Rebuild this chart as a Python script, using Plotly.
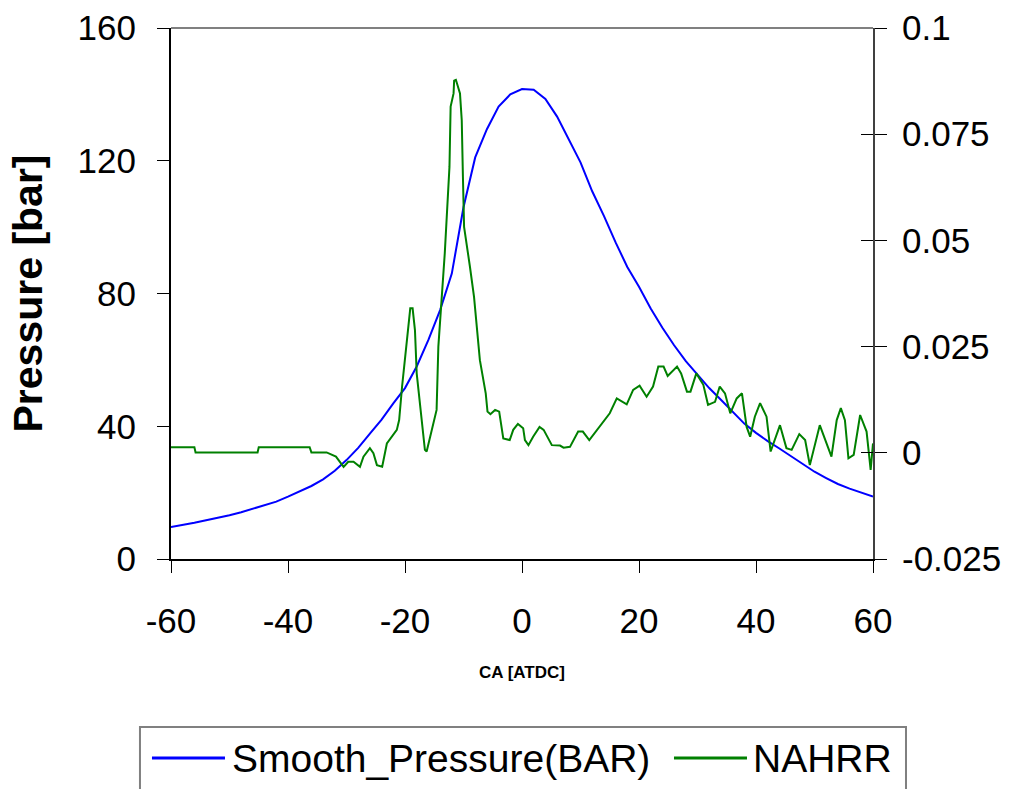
import plotly.graph_objects as go

# ---- data ----
ca_pressure = [-60, -58, -56, -54, -52, -50, -48, -46, -44, -42, -40, -38, -36, -34, -32, -30,
               -28, -26, -24, -22, -20, -18, -16, -14, -12, -10, -8, -6, -4, -2, 0, 2, 4, 6, 8,
               10, 12, 14, 16, 18, 20, 22, 24, 26, 28, 30, 32, 34, 36, 38, 40, 42, 44, 46, 48,
               50, 52, 54, 56, 58, 60]
smooth_pressure = [9.6, 10.2, 10.9, 11.7, 12.4, 13.2, 14.1, 15.1, 16.1, 17.3, 18.8, 20.3, 22.0, 24.0,
                   26.6, 29.8, 33.5, 37.8, 42.0, 46.9, 51.5, 58.0, 66.0, 75.0, 86.0, 106.0, 121.0,
                   129.5, 136.3, 140.0, 141.6, 141.4, 138.6, 133.3, 126.4, 119.5, 110.8, 103.4,
                   95.4, 88.0, 82.0, 75.5, 69.7, 64.4, 59.6, 55.5, 51.5, 48.0, 44.3, 40.8, 38.0,
                   35.5, 33.3, 31.0, 28.7, 26.3, 24.4, 22.6, 21.2, 20.0, 18.8]

ca_nahrr = [-60, -56.0, -55.8, -45.2, -45.0, -36.3, -36.0, -33.4, -31.8, -30.5, -29.7, -28.8,
            -27.7, -27.1, -26.0, -25.4, -24.8, -23.9, -23.1, -21.4, -21.0, -20.5, -19.1, -18.7,
            -18.3, -18.0, -16.6, -16.3, -14.6, -14.3, -13.2, -12.4, -12.2, -11.7, -11.6, -11.3,
            -10.6, -10.3, -10.1, -9.9, -8.9, -8.2, -7.2, -6.2, -5.9, -5.4, -4.6, -3.9, -3.2,
            -2.1, -1.5, -0.7, 0.2, 0.5, 1.1, 1.9, 3.0, 3.7, 5.1, 6.5, 7.1, 8.2, 9.6, 10.4, 11.5,
            13.3, 15.0, 16.2, 17.9, 19.0, 20.1, 21.3, 22.4, 23.3, 24.2, 24.9, 26.5, 27.2, 28.2,
            28.8, 29.8, 31.0, 31.8, 33.0, 33.8, 34.7, 35.6, 36.7, 37.6, 38.4, 39.0, 39.8, 40.7,
            41.8, 42.5, 44.1, 45.2, 46.1, 47.4, 48.4, 49.2, 50.9, 51.8, 52.9, 53.8, 54.5, 55.2,
            55.8, 56.7, 57.8, 58.9, 59.6, 60.0]
nahrr = [0.0013, 0.0013, 0.0001, 0.0001, 0.0013, 0.0013, 0.0001, 0.0001, -0.0009, -0.0033,
         -0.0021, -0.0021, -0.0033, -0.0009, 0.0011, -0.0001, -0.0029, -0.0033, 0.0022, 0.0054,
         0.0077, 0.0156, 0.034, 0.034, 0.0289, 0.0187, 0.0007, 0.0003, 0.0101, 0.025, 0.047,
         0.0673, 0.0815, 0.0846, 0.0876, 0.0878, 0.0846, 0.0783, 0.065, 0.0532, 0.0438, 0.0367,
         0.0218, 0.014, 0.0097, 0.0091, 0.0101, 0.0097, 0.0034, 0.003, 0.0054, 0.0068, 0.0058,
         0.003, 0.0018, 0.0038, 0.0061, 0.0054, 0.0018, 0.0017, 0.0012, 0.0014, 0.005, 0.005,
         0.003, 0.0061, 0.0093, 0.0128, 0.0114, 0.0148, 0.0158, 0.0132, 0.0156, 0.0203, 0.0203,
         0.0181, 0.0203, 0.0187, 0.0144, 0.0144, 0.0187, 0.016, 0.0113, 0.012, 0.0156, 0.014,
         0.0093, 0.0128, 0.014, 0.0061, 0.0038, 0.0085, 0.0117, 0.0085, 0.0003, 0.0065, 0.0011,
         0.0007, 0.0044, 0.003, -0.0029, 0.0065, 0.003, -0.0009, 0.0077, 0.0105, 0.0077,
         -0.0013, -0.0005, 0.0089, 0.005, -0.004, 0.0022]

series_names = ["Smooth_Pressure(BAR)", "NAHRR"]
series_colors = ["#0000FF", "#008000"]

x_ticks = [-60, -40, -20, 0, 20, 40, 60]
x_ticktext = ["-60", "-40", "-20", "0", "20", "40", "60"]
left_ticks = [0, 40, 80, 120, 160]
left_ticktext = ["0", "40", "80", "120", "160"]
right_ticks = [-0.025, 0, 0.025, 0.05, 0.075, 0.1]
right_ticktext = ["-0.025", "0", "0.025", "0.05", "0.075", "0.1"]

FONT = "Arial, Liberation Sans, sans-serif"

fig = go.Figure()
fig.add_trace(go.Scatter(x=ca_pressure, y=smooth_pressure, mode="lines",
                         name=series_names[0], line=dict(color=series_colors[0], width=2),
                         yaxis="y", showlegend=False))
fig.add_trace(go.Scatter(x=ca_nahrr, y=nahrr, mode="lines", name=series_names[1],
                         line=dict(color=series_colors[1], width=2), yaxis="y2",
                         showlegend=False))
# dummy trace to activate yaxis3 (cross ticks on the right axis)
fig.add_trace(go.Scatter(x=[None], y=[None], yaxis="y3", showlegend=False, hoverinfo="skip"))

fig.update_layout(
    width=1017, height=789,
    margin=dict(l=171, r=144, t=28, b=230, autoexpand=False),
    paper_bgcolor="white", plot_bgcolor="white",
    font=dict(family=FONT, color="black"),
    showlegend=False,
    xaxis=dict(range=[-60, 60], tickvals=x_ticks, ticktext=x_ticktext, automargin=False,
               showgrid=False, zeroline=False, showline=True, linecolor="black", linewidth=2,
               ticks="outside", ticklen=12, tickcolor="black", tickwidth=1,
               tickfont=dict(size=35), ticklabelstandoff=18,
               title=dict(text="<b>CA [ATDC]</b>", font=dict(size=17), standoff=27)),
    yaxis=dict(range=[0, 160], tickvals=left_ticks, ticktext=left_ticktext, automargin=False,
               showgrid=False, zeroline=False, showline=True, linecolor="black", linewidth=2,
               ticks="outside", ticklen=12, tickcolor="black", tickwidth=1,
               tickfont=dict(size=35), ticklabelstandoff=14,
               title=dict(text="<b>Pressure [bar]</b>", font=dict(size=41), standoff=22)),
    yaxis2=dict(range=[-0.025, 0.1], tickvals=right_ticks, ticktext=right_ticktext,
                overlaying="y", side="right", anchor="x", automargin=False,
                showgrid=False, zeroline=False, showline=True, linecolor="#404040", linewidth=2,
                ticks="outside", ticklen=12, tickcolor="black", tickwidth=1,
                tickfont=dict(size=35), ticklabelstandoff=8),
    yaxis3=dict(range=[-0.025, 0.1], tickvals=right_ticks, showticklabels=False,
                overlaying="y", side="right", anchor="x", automargin=False,
                showgrid=False, zeroline=False, showline=False,
                ticks="inside", ticklen=12, tickcolor="black", tickwidth=1),
)

# grey top border of plot area
fig.add_shape(type="line", xref="paper", yref="paper", x0=0, x1=1, y0=1, y1=1,
              line=dict(color="#808080", width=2))

# legend box (drawn like the reference: long sample lines, box cut off at the bottom)
fig.add_shape(type="rect", xref="paper", yref="paper", x0=-0.0442, x1=1.0470,
              y0=-0.3164, y1=-0.46, line=dict(color="#808080", width=2),
              fillcolor="white", layer="above")
legend_line_x = [(-0.0271, 0.0769), (0.7165, 0.8205)]
legend_text_x = [0.0841, 0.8263]
legend_y = -0.3748
for name, color, (lx0, lx1), tx in zip(series_names, series_colors, legend_line_x, legend_text_x):
    fig.add_shape(type="line", xref="paper", yref="paper", x0=lx0, x1=lx1,
                  y0=legend_y, y1=legend_y, line=dict(color=color, width=3), layer="above")
    fig.add_annotation(xref="paper", yref="paper", x=tx, y=legend_y, text=name,
                       showarrow=False, xanchor="left", yanchor="middle",
                       font=dict(size=39, family=FONT, color="black"))

fig.write_html("out.html", config={"displayModeBar": False},
               post_script="document.body.style.margin='0px';document.body.style.overflow='hidden';")
